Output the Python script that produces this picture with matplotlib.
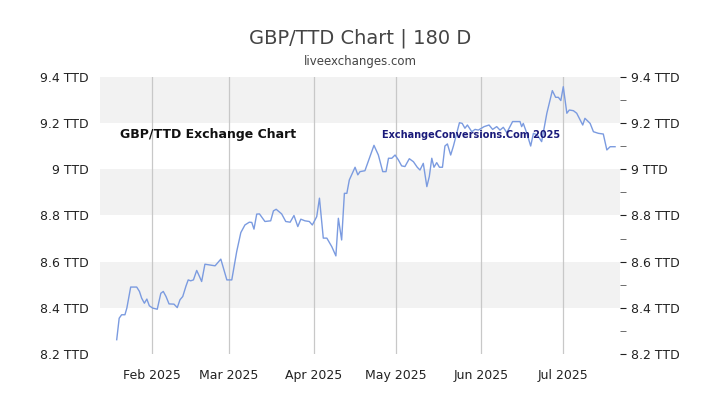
import matplotlib
matplotlib.use("Agg")
import matplotlib.pyplot as plt
import numpy as np
import datetime as dt

# days offset from 2025-02-01 and GBP/TTD rates
days = [-12.9,-12.0,-11.1,-9.9,-9.2,-7.8,-5.6,-4.6,-3.8,-2.8,-1.9,-1.0,0.2,1.9,3.2,4.1,5.1,6.2,8.0,9.2,10.2,11.2,12.4,13.2,14.1,15.1,16.3,17.3,18.1,19.3,23.0,25.1,27.3,29.1,30.9,32.4,33.9,35.5,36.4,37.2,38.2,39.2,41.2,43.3,44.3,45.3,47.3,48.8,50.4,51.8,53.2,54.3,55.8,57.4,58.5,60.1,61.1,62.5,63.8,65.6,67.1,68.0,69.2,70.2,71.1,72.0,
        74.1,75.1,75.9,77.7,81.0,82.6,84.2,85.4,86.3,87.5,88.7,89.9,91.1,92.3,93.9,95.4,96.8,97.8,99.0,100.3,101.2,102.1,102.9,103.9,104.9,106.0,106.9,107.8,109.0,110.0,112.2,113.2,114.2,115.1,116.7,117.9,119.1,121.2,123.0,124.3,125.8,127.0,128.2,129.5,131.6,134.3,134.9,135.5,136.8,138.2,139.2,140.6,142.2,144.1,146.1,147.3,148.3,149.2,150.1,151.4,152.3,153.8,155.0,157.2,158.0,159.9,161.1,162.9,164.7,166.0,167.2,169.0]
rates = [8.262,8.355,8.370,8.370,8.399,8.490,8.490,8.471,8.442,8.420,8.438,8.409,8.399,8.394,8.463,8.471,8.449,8.417,8.416,8.401,8.435,8.449,8.495,8.521,8.517,8.521,8.562,8.536,8.514,8.589,8.582,8.611,8.521,8.521,8.644,8.726,8.759,8.771,8.770,8.741,8.806,8.807,8.774,8.777,8.820,8.827,8.807,8.774,8.771,8.800,8.752,8.784,8.777,8.774,8.759,8.795,8.875,8.702,8.702,8.665,8.625,8.788,8.694,8.896,8.896,8.954,
         9.009,8.976,8.990,8.994,9.104,9.062,8.990,8.990,9.048,9.048,9.062,9.041,9.015,9.012,9.046,9.033,9.009,8.997,9.026,8.925,8.969,9.048,9.009,9.029,9.009,9.009,9.101,9.110,9.062,9.101,9.202,9.199,9.178,9.192,9.163,9.173,9.170,9.185,9.192,9.173,9.185,9.170,9.182,9.159,9.207,9.207,9.185,9.199,9.156,9.101,9.156,9.149,9.120,9.243,9.341,9.312,9.312,9.298,9.358,9.243,9.257,9.254,9.243,9.192,9.221,9.199,9.163,9.156,9.153,9.084,9.098,9.098]
yticks = [8.2, 8.4, 8.6, 8.8, 9.0, 9.2, 9.4]
ylabels = ["8.2 TTD", "8.4 TTD", "8.6 TTD", "8.8 TTD", "9 TTD", "9.2 TTD", "9.4 TTD"]
months = ["2025-02-01", "2025-03-01", "2025-04-01", "2025-05-01", "2025-06-01", "2025-07-01"]
month_labels = ["Feb 2025", "Mar 2025", "Apr 2025", "May 2025", "Jun 2025", "Jul 2025"]

base = dt.datetime(2025, 2, 1)
x = [base + dt.timedelta(days=d) for d in days]
mdays = [dt.datetime.fromisoformat(m) for m in months]

fig = plt.figure(figsize=(7.2, 4.05), dpi=100)
ax = fig.add_axes([100/720, 51/405, 520/720, 277/405])
ax.set_xlim(base + dt.timedelta(days=-19), base + dt.timedelta(days=170.8))
ax.set_ylim(8.2, 9.4)
for lo in [8.4, 8.8, 9.2]:
    ax.axhspan(lo, lo + 0.2, color="#f2f2f2", lw=0, zorder=0)
for m in mdays:
    ax.axvline(m, color="#c8c8c8", lw=0.9, zorder=1)
ax.plot(x, rates, color="#7b9be0", lw=1.0, zorder=3)

for s in ax.spines.values():
    s.set_visible(False)
ax.set_yticks(yticks)
ax.set_yticklabels(ylabels)
ax.set_xticks(mdays)
ax.set_xticklabels(month_labels)
ax.tick_params(axis="both", length=0, labelsize=9, colors="#222222")
ax.tick_params(axis="x", pad=11)
ax.tick_params(axis="y", pad=8)
ax2 = ax.twinx()
ax2.set_ylim(8.2, 9.4)
for s in ax2.spines.values():
    s.set_visible(False)
ax2.set_yticks(yticks)
ax2.set_yticklabels(ylabels)
ax2.set_yticks(np.arange(8.3, 9.4, 0.2), minor=True)
ax2.tick_params(axis="y", which="major", length=4, labelsize=9, colors="#222222", pad=4)
ax2.tick_params(axis="y", which="minor", length=4, color="#555555")

fig.text(0.5, 1 - 38/405, "GBP/TTD Chart | 180 D", ha="center", va="center", fontsize=14, color="#444444")
fig.text(0.5, 1 - 62/405, "liveexchanges.com", ha="center", va="center", fontsize=8.5, color="#444444")
fig.text(120/720, 1 - 135/405, "GBP/TTD Exchange Chart", ha="left", va="center",
         fontsize=9, fontweight="bold", color="#111111")
fig.text(382/720, 1 - 135/405, "ExchangeConversions.Com 2025", ha="left", va="center",
         fontsize=7, fontweight="bold", color="#1a1a7a")

fig.savefig("out.png", dpi=100)
